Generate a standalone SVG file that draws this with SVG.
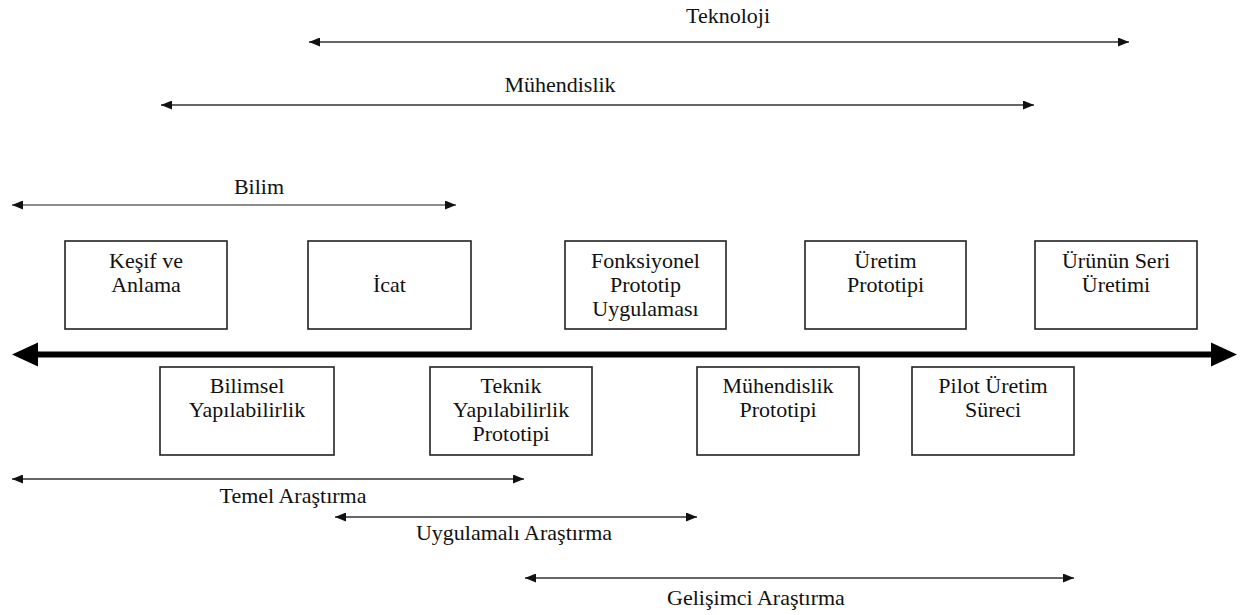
<svg xmlns="http://www.w3.org/2000/svg" width="1242" height="615" viewBox="0 0 1242 615">
<style>
text{font-family:'Liberation Serif','Times New Roman',Times,serif;font-size:22px;fill:#111;text-anchor:middle}
.box{fill:#fff;stroke:#222;stroke-width:1.6}
.span{stroke:#333;stroke-width:1.6;fill:none;marker-start:url(#ah);marker-end:url(#ah)}
.gray{stroke:#8c8c8c;stroke-width:2}
</style>
<defs>
<marker id="ah" markerUnits="userSpaceOnUse" markerWidth="11" markerHeight="9" refX="11" refY="4.5" orient="auto-start-reverse">
<path d="M0,0 L11,4.5 L0,9 Z" fill="#111"/>
</marker>
</defs>
<rect width="1242" height="615" fill="#fff"/>
<g id="connectors">
<line class="span" x1="309" y1="42" x2="1129" y2="42"/>
<line class="span" x1="161" y1="105" x2="1034" y2="105"/>
<line class="span gray" x1="12" y1="205" x2="456" y2="205"/>
<path id="main-axis" d="M12,354.5 L38,342.5 L38,351.5 L1211,351.5 L1211,342.5 L1237,354.5 L1211,366.5 L1211,357.5 L38,357.5 L38,366.5 Z" fill="#000"/>
<line class="span" x1="12" y1="479" x2="524" y2="479"/>
<line class="span" x1="335" y1="517" x2="697" y2="517"/>
<line class="span" x1="525" y1="578" x2="1074" y2="578"/>
</g>
<g id="labels">
<text x="728" y="23">Teknoloji</text>
<text x="560" y="92">Mühendislik</text>
<text x="259" y="194">Bilim</text>
<text x="293" y="503">Temel Araştırma</text>
<text x="514" y="540">Uygulamalı Araştırma</text>
<text x="756" y="605">Gelişimci Araştırma</text>
</g>
<g id="kesif">
<rect class="box" x="65" y="241" width="162" height="88"/>
<text x="146" y="268">Keşif ve</text>
<text x="146" y="292">Anlama</text>
</g>
<g id="icat">
<rect class="box" x="308" y="241" width="163" height="88"/>
<text x="389.5" y="292">İcat</text>
</g>
<g id="fonksiyonel">
<rect class="box" x="565" y="241" width="161" height="88"/>
<text x="645.5" y="268">Fonksiyonel</text>
<text x="645.5" y="292">Prototip</text>
<text x="645.5" y="316">Uygulaması</text>
</g>
<g id="uretim-prototipi">
<rect class="box" x="805" y="241" width="161" height="88"/>
<text x="885.5" y="268">Üretim</text>
<text x="885.5" y="292">Prototipi</text>
</g>
<g id="seri-uretim">
<rect class="box" x="1035" y="241" width="162" height="88"/>
<text x="1116" y="268">Ürünün Seri</text>
<text x="1116" y="292">Üretimi</text>
</g>
<g id="bilimsel">
<rect class="box" x="160" y="367" width="174" height="88"/>
<text x="247" y="393">Bilimsel</text>
<text x="247" y="417">Yapılabilirlik</text>
</g>
<g id="teknik">
<rect class="box" x="430" y="367" width="162" height="88"/>
<text x="511" y="393">Teknik</text>
<text x="511" y="417">Yapılabilirlik</text>
<text x="511" y="441">Prototipi</text>
</g>
<g id="muhendislik-prototipi">
<rect class="box" x="697" y="367" width="162" height="88"/>
<text x="778" y="393">Mühendislik</text>
<text x="778" y="417">Prototipi</text>
</g>
<g id="pilot">
<rect class="box" x="912" y="367" width="162" height="88"/>
<text x="993" y="393">Pilot Üretim</text>
<text x="993" y="417">Süreci</text>
</g>
</svg>
